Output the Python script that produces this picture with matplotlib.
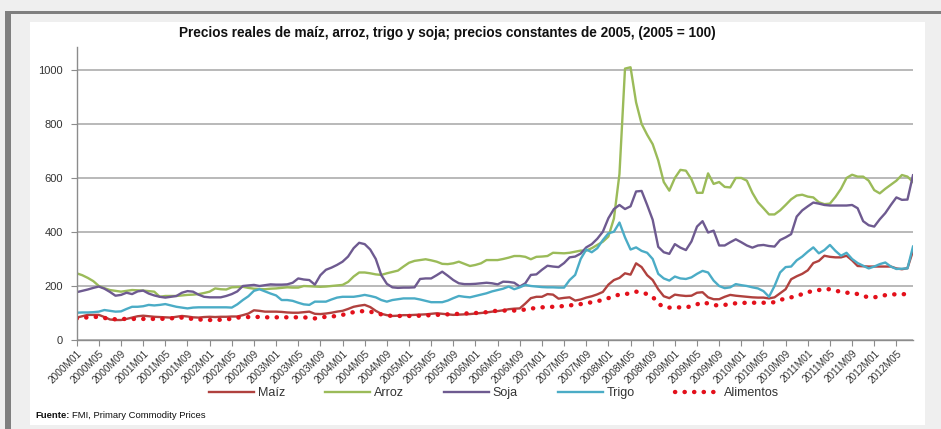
import matplotlib
matplotlib.use("Agg")
import matplotlib.pyplot as plt
from matplotlib.patches import Rectangle
from matplotlib.lines import Line2D

# ---- categories ----
years = list(range(2000, 2013))
months = [f"{y}M{m:02d}" for y in years for m in range(1, 13)][:152]  # 2000M01 .. 2012M08
tick_step = 4

# ---- series (monthly, index 2000M01 = 0) ----
maiz = [
    83, 88, 93, 93, 93, 85, 76, 74, 74, 78, 83, 88,
    90, 88, 86, 85, 84, 83, 86, 89, 87, 84, 83, 85,
    86, 85, 86, 86, 87, 87, 92, 98, 110, 108, 105, 105,
    105, 104, 102, 101, 101, 103, 105, 97, 96, 98, 101, 105,
    108, 115, 123, 127, 130, 122, 108, 97, 92, 89, 90, 92,
    92, 93, 94, 95, 97, 99, 97, 95, 93, 94, 95, 96,
    98, 100, 102, 105, 107, 110, 114, 116, 117, 135, 155, 160,
    160, 170, 168, 153, 156, 158, 146, 150, 157, 162, 169, 178,
    205, 222, 230, 247, 242, 284, 270, 240, 222, 188, 162, 155,
    168, 165, 163, 164, 175, 177, 158, 151, 151, 160, 167, 164,
    162, 160, 158, 157, 157, 154, 158, 173, 188, 225, 236, 245,
    258, 285, 293, 312, 308, 306, 306, 312, 295, 274, 273, 272,
    272, 272, 272, 272, 265, 262, 266, 330,
]
arroz = [
    247, 240, 230, 218, 200, 192, 185, 182, 179, 182, 185, 184,
    183, 181, 179, 160, 163, 163, 163, 165, 167, 168, 170, 174,
    179, 191, 188, 187, 195, 196, 197, 193, 190, 189, 188, 190,
    191, 193, 195, 194, 194, 200, 199, 198, 197, 198, 200, 202,
    204, 215, 235, 250, 250, 247, 243, 241, 247, 252, 257, 272,
    286, 293, 296, 299, 295, 290, 282, 281, 284, 290, 282, 274,
    278, 284, 296, 296, 296, 300, 305, 311, 311, 308, 299, 308,
    309, 311, 323, 322, 321, 323, 327, 331, 331, 340, 352, 364,
    383, 450, 615, 1005, 1010, 880, 800, 760, 725, 665, 585, 553,
    600, 630, 627, 595, 545, 545, 617, 578, 585, 567, 565, 600,
    600, 590, 545, 510, 488, 465, 465, 480, 500, 521, 535, 538,
    531, 528, 510, 503, 505, 530, 560, 600, 612, 605, 605, 590,
    555, 543, 560, 575, 590, 611, 605, 585,
]
soja = [
    177, 182, 187, 193, 198, 190, 178, 164, 167, 175, 170, 180,
    183, 172, 165, 160, 157, 160, 163, 175, 181, 179, 168, 160,
    158, 158, 158, 163, 170, 180, 200, 202, 204, 200, 203, 206,
    205, 205, 206, 212, 228, 224, 222, 205, 240, 260, 268, 278,
    290, 309, 340, 360, 355, 335, 300, 240, 208, 195, 193, 194,
    194, 195, 226, 228, 228, 240, 253, 238, 222, 210, 207, 207,
    208, 210, 212, 210, 206, 216, 215, 212, 198, 210, 241, 243,
    260, 275, 272, 270, 285, 306, 309, 320, 343, 355, 375, 401,
    451, 485, 500, 485, 495, 550, 552, 500, 445, 345, 325, 319,
    355, 342, 333, 365, 420, 440, 398, 405, 350, 350, 362, 373,
    362, 350, 342, 350, 352, 348, 346, 370, 380, 392, 457, 480,
    495, 509, 505, 500, 498, 498, 498, 498, 500, 488, 440, 425,
    420, 447, 470, 500, 528, 519, 520, 610,
]
trigo = [
    101, 102, 102, 103, 105, 111, 108, 105, 106, 115, 123, 123,
    125, 130, 128, 130, 133, 128, 123, 120, 117, 120, 121, 121,
    121, 121, 121, 121, 120, 132, 148, 162, 182, 188, 180, 172,
    165, 148, 148, 145, 138, 132, 130, 142, 142, 142, 150, 157,
    160, 160, 160, 163, 167, 163, 158, 148, 142, 148, 151, 154,
    154, 154, 150, 145, 140, 140, 140, 146, 155, 163, 160, 158,
    163, 168, 173, 180, 185, 190, 198, 188, 195, 204, 200, 198,
    196, 195, 195, 194, 194, 222, 241, 300, 335, 325, 340, 370,
    395, 401, 435, 380, 335, 343, 330, 323, 300, 245, 228, 220,
    235, 228, 226, 232, 245, 256, 250, 220, 200, 192, 195, 207,
    203, 200, 195, 191, 181, 160, 200, 250, 270, 272, 295, 309,
    327, 343, 321, 333, 352, 330, 312, 323, 300, 285, 275, 265,
    272, 281, 287, 272, 263, 264, 265, 346,
]
alimentos = [
    80, 82, 84, 85, 86, 82, 77, 77, 78, 78, 78, 78,
    78, 78, 78, 78, 79, 80, 82, 83, 80, 78, 76, 75,
    74, 74, 75, 76, 79, 83, 84, 85, 86, 85, 84, 84,
    84, 84, 84, 84, 84, 84, 82, 80, 83, 86, 87, 89,
    93, 99, 103, 105, 108, 105, 99, 95, 91, 89, 89, 89,
    89, 89, 90, 91, 92, 93, 94, 95, 96, 97, 98, 99,
    100, 101, 103, 106, 109, 109, 109, 109, 110, 113, 116, 119,
    121, 122, 123, 124, 126, 128, 131, 133, 136, 140, 144, 148,
    155, 163, 168, 170, 173, 179, 176, 170, 160, 135, 122, 120,
    120, 121, 121, 125, 132, 140, 135, 130, 127, 130, 133, 136,
    137, 138, 138, 138, 138, 138, 140, 148, 154, 158, 163, 170,
    177, 182, 185, 188, 188, 183, 178, 175, 175, 170, 163, 158,
    158, 162, 166, 169, 169, 169, 171, 173,
]

series_names = ["Maíz", "Arroz", "Soja", "Trigo", "Alimentos"]
y_ticks = [0, 200, 400, 600, 800, 1000]

title = "Precios reales de maíz, arroz, trigo y soja; precios constantes de 2005, (2005 = 100)"

plt.rcParams["font.family"] = ["Liberation Sans", "DejaVu Sans"]

W, H = 941, 429
fig = plt.figure(figsize=(W / 100, H / 100), dpi=100, facecolor="#EFEFEF")

# frame decorations (figure coordinates), kept behind the axes
fig.patches.append(Rectangle((5 / W, 0), 6 / W, 1 - 11 / H, transform=fig.transFigure,
                             facecolor="#7F7F7F", edgecolor="none", zorder=-10))
fig.patches.append(Rectangle((5 / W, 1 - 14 / H), 1, 3 / H, transform=fig.transFigure,
                             facecolor="#7F7F7F", edgecolor="none", zorder=-10))
fig.patches.append(Rectangle((30 / W, 1 - 425 / H), (925 - 30) / W, (425 - 22) / H,
                             transform=fig.transFigure, facecolor="white",
                             edgecolor="none", zorder=-10))

ax = fig.add_axes([76.7 / W, 1 - 340 / H, (913 - 76.7) / W, (340 - 47) / H])
ax.set_facecolor("none")
ax.set_zorder(5)

x = list(range(len(months)))
colors = {"Maíz": "#B0413E", "Arroz": "#9BBB59", "Soja": "#6E5A90",
          "Trigo": "#4BACC6", "Alimentos": "#E3101B"}
data = {"Maíz": maiz, "Arroz": arroz, "Soja": soja, "Trigo": trigo, "Alimentos": alimentos}
dot_style = (0, (0.05, 2.1))

for name in series_names[:4]:
    ax.plot(x, data[name], color=colors[name], lw=1.7, solid_joinstyle="round", label=name)
ax.plot(x, alimentos, color=colors["Alimentos"], lw=3.2, linestyle=dot_style,
        dash_capstyle="round", label="Alimentos")

ax.set_xlim(0, 151)
ax.set_ylim(0, 1085)
ax.set_yticks(y_ticks)
ax.set_yticklabels([str(v) for v in y_ticks], fontsize=8, color="#333333")
ax.yaxis.grid(True, color="#A6A6A6", lw=1.1)
ax.set_axisbelow(True)

ax.set_xticks(x[::tick_step])
ax.set_xticklabels(months[::tick_step], rotation=45, ha="right", va="top",
                   rotation_mode="anchor", fontsize=7.2, color="#333333")

for s in ["top", "right"]:
    ax.spines[s].set_visible(False)
for s in ["left", "bottom"]:
    ax.spines[s].set_color("#8C8C8C")
    ax.spines[s].set_linewidth(1.0)
ax.tick_params(axis="x", length=4, width=0.8, color="#8C8C8C", pad=2)
ax.tick_params(axis="y", length=4, width=0.8, color="#8C8C8C", pad=6)

fig.text(447 / W, 1 - 33 / H, title, ha="center", va="center", fontsize=9.8,
         fontweight="bold", color="#111111")

handles = [Line2D([], [], color=colors[n], lw=1.7) for n in series_names[:4]]
handles.append(Line2D([], [], color=colors["Alimentos"], lw=3.2, linestyle=dot_style,
                      dash_capstyle="round"))
fig.legend(handles, series_names, loc="center", bbox_to_anchor=(494 / W, 1 - 393 / H),
           ncol=5, frameon=False, fontsize=9, handlelength=3.6, handletextpad=0.3,
           columnspacing=3.2, labelcolor="#333333")

fig.text(35 / W, 1 - 415 / H, "Fuente:", ha="left", va="center", fontsize=6.8,
         fontweight="bold", color="#111111")
fig.text(72 / W, 1 - 415 / H, "FMI, Primary Commodity Prices", ha="left", va="center",
         fontsize=6.8, color="#111111")

fig.savefig("out.png", dpi=100, facecolor=fig.get_facecolor())
